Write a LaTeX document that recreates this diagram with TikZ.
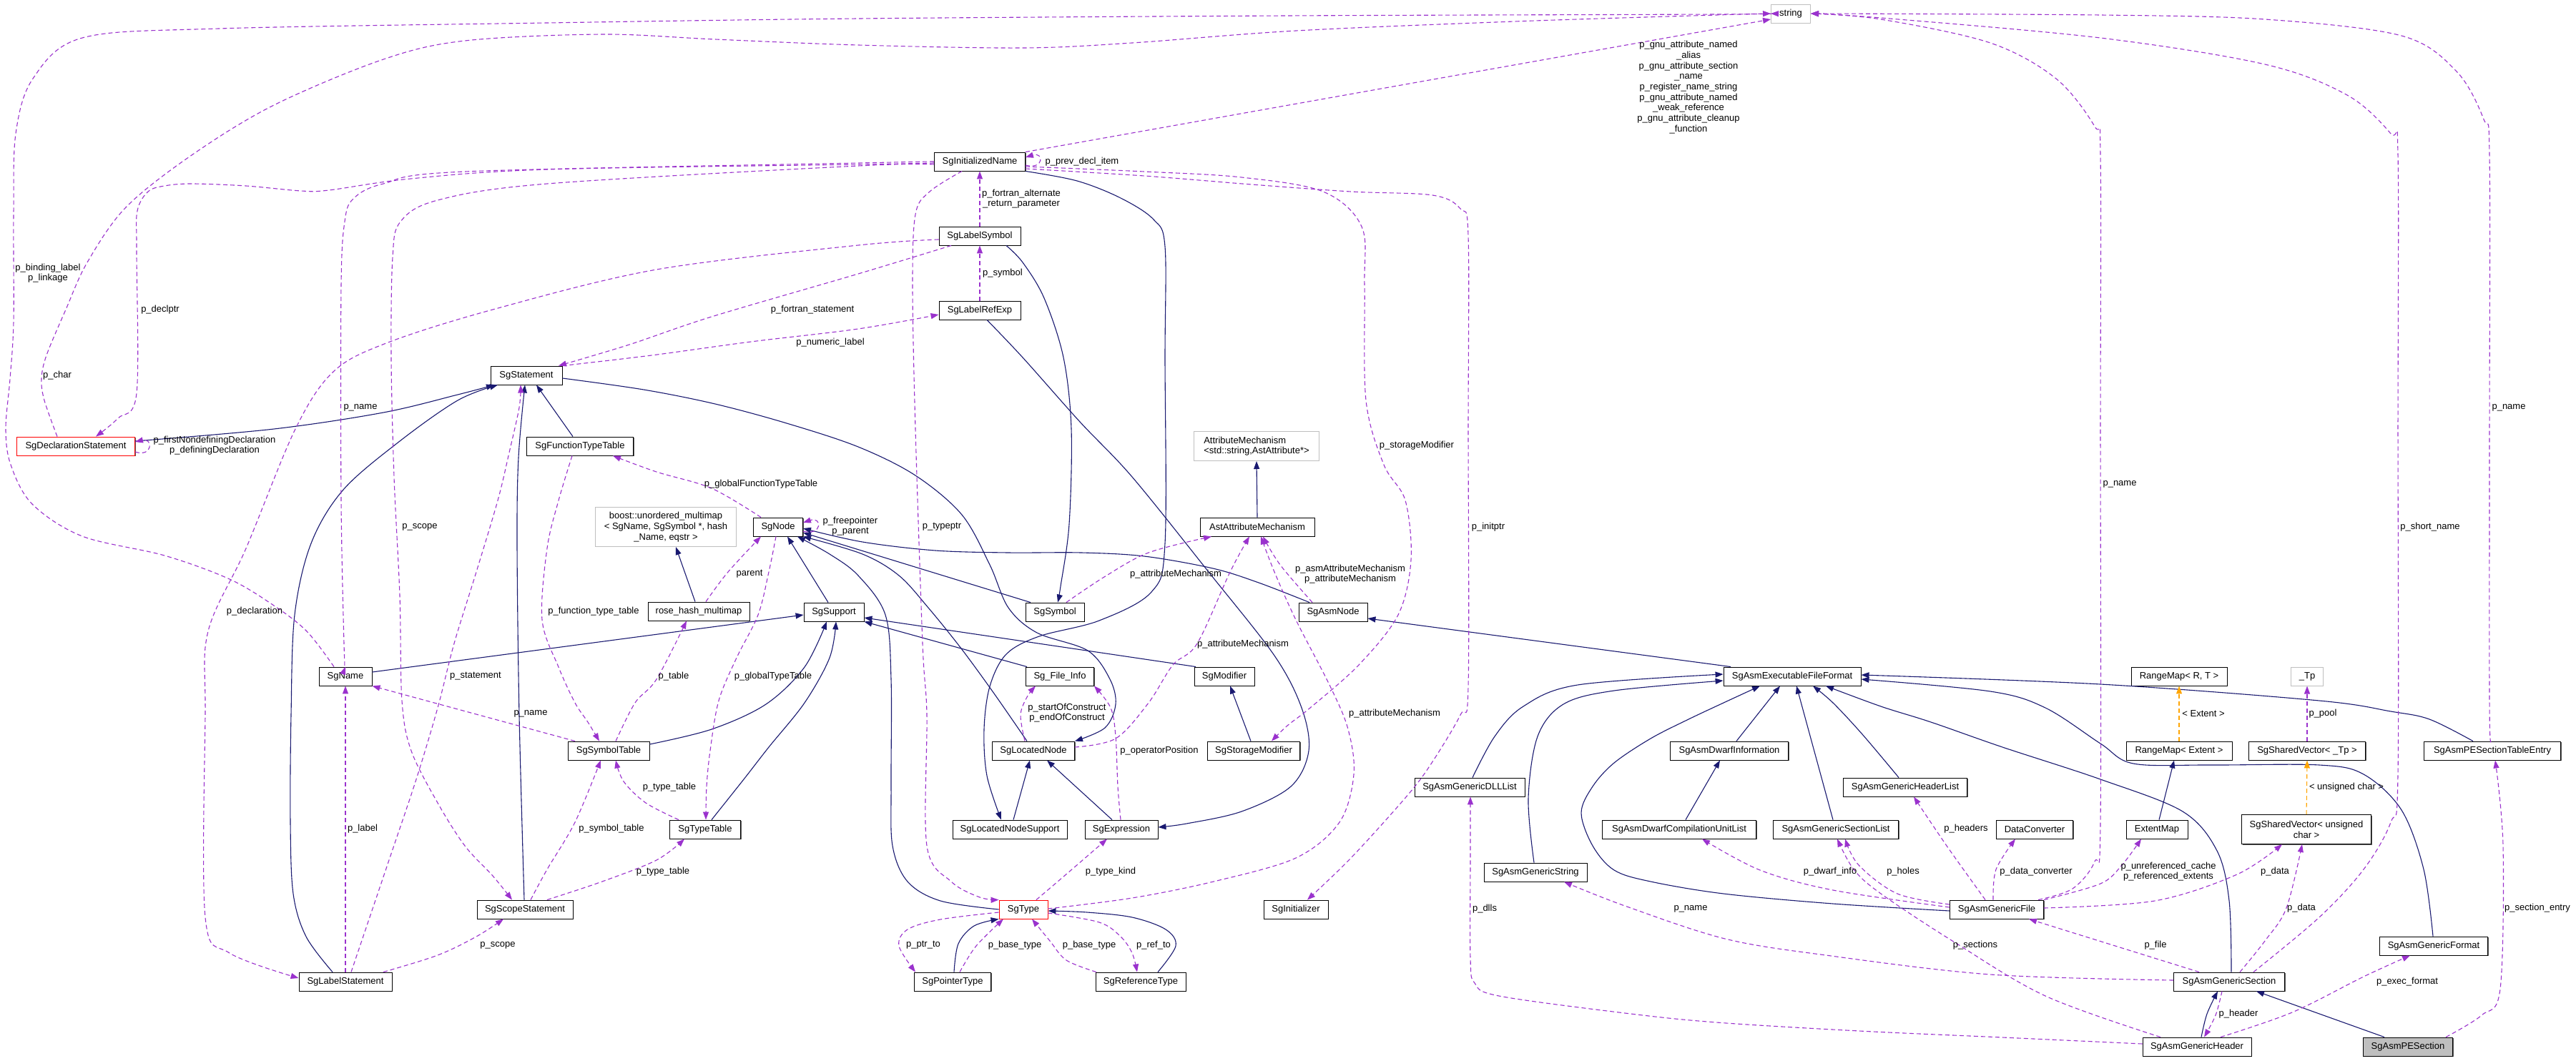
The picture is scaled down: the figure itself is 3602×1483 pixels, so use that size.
\documentclass[tikz,border=0pt]{standalone}
\usepackage{fontspec}
\setmainfont{Liberation Sans}
\usetikzlibrary{arrows.meta,shadows}
\definecolor{dxnavy}{HTML}{191970}
\definecolor{dxpurp}{HTML}{9A32CD}
\definecolor{dxorng}{HTML}{FFA500}
\definecolor{dxgray}{HTML}{BFBFBF}
\newcommand\dxf{\fontsize{13}{14.7}\selectfont}
\begin{document}
\begin{tikzpicture}[x=1pt,y=-1pt,
  cls/.style={draw=black, fill=white, line width=0.9pt, inner sep=0pt, minimum height=26pt, font=\dxf, align=center, drop shadow={opacity=1,fill=black!65,shadow xshift=1.3pt,shadow yshift=-1.3pt}},
  redcls/.style={cls, draw=red},
  ucls/.style={draw=dxgray, fill=white, line width=1pt, inner sep=0pt, minimum height=26pt, font=\dxf, align=center},
  inh/.style={draw=dxnavy, line width=1.1pt, -{Triangle[length=11pt,width=8pt]}},
  usel/.style={draw=dxpurp, line width=1.1pt, dash pattern=on 6pt off 4pt, -{Triangle[length=11pt,width=8pt]}},
  tmpl/.style={draw=dxorng, line width=1.1pt, dash pattern=on 6pt off 4pt, -{Triangle[length=11pt,width=8pt]}},
  lbl/.style={font=\dxf, inner sep=0pt, align=center},
  sm/.style={smooth, tension=0.55}
]
\useasboundingbox[fill=white] (0,0) rectangle (3602,1483);

% ---------------- nodes ----------------
\node[ucls, minimum width=55pt] (str) at (2504,19) {string};
\node[cls, minimum width=127pt] (ini) at (1370,226) {SgInitializedName};
\node[cls, minimum width=114pt] (lsym) at (1370,330) {SgLabelSymbol};
\node[cls, minimum width=114pt] (lref) at (1370,434) {SgLabelRefExp};
\node[cls, minimum width=100pt] (stmt) at (736,525) {SgStatement};
\node[redcls, minimum width=165pt] (decl) at (106,624) {SgDeclarationStatement};
\node[cls, minimum width=149pt] (ftt) at (811,624) {SgFunctionTypeTable};
\node[ucls, minimum width=197pt, minimum height=55pt] (boost) at (931,737) {boost::unordered\_multimap\\< SgName, SgSymbol *, hash\\\_Name, eqstr >};
\node[cls, minimum width=69pt] (node) at (1088,737) {SgNode};
\node[cls, minimum width=142pt] (rhm) at (977,855) {rose\_hash\_multimap};
\node[cls, minimum width=84pt] (sup) at (1166,856) {SgSupport};
\node[cls, minimum width=74pt] (name) at (483,946) {SgName};
\node[cls, minimum width=114pt] (symt) at (851,1050) {SgSymbolTable};
\node[cls, minimum width=99pt] (typt) at (986,1160) {SgTypeTable};
\node[cls, minimum width=134pt] (scope) at (734,1272) {SgScopeStatement};
\node[cls, minimum width=130pt] (lstmt) at (483,1373) {SgLabelStatement};
\node[ucls, minimum width=175pt, minimum height=41pt, align=left] (am) at (1757,624) {AttributeMechanism\\<std::string,AstAttribute*>};
\node[cls, minimum width=160pt] (aam) at (1758,737) {AstAttributeMechanism};
\node[cls, minimum width=82pt] (sym) at (1475,856) {SgSymbol};
\node[cls, minimum width=96pt] (asmn) at (1864,856) {SgAsmNode};
\node[cls, minimum width=95pt] (sfi) at (1482,946) {Sg\_File\_Info};
\node[cls, minimum width=84pt] (mod) at (1712,946) {SgModifier};
\node[cls, minimum width=115pt] (lnode) at (1445,1050) {SgLocatedNode};
\node[cls, minimum width=129pt] (smod) at (1753,1050) {SgStorageModifier};
\node[cls, minimum width=160pt] (lns) at (1412,1160) {SgLocatedNodeSupport};
\node[cls, minimum width=102pt] (expr) at (1568,1160) {SgExpression};
\node[redcls, minimum width=68pt] (type) at (1431,1272) {SgType};
\node[cls, minimum width=90pt] (init) at (1812,1272) {SgInitializer};
\node[cls, minimum width=107pt] (ptr) at (1332,1373) {SgPointerType};
\node[cls, minimum width=126pt] (ref) at (1595,1373) {SgReferenceType};
\node[cls, minimum width=192pt] (aeff) at (2506,946) {SgAsmExecutableFileFormat};
\node[cls, minimum width=165pt] (dwi) at (2418,1050) {SgAsmDwarfInformation};
\node[cls, minimum width=154pt] (dll) at (2055,1101) {SgAsmGenericDLLList};
\node[cls, minimum width=215pt] (dcul) at (2348,1160) {SgAsmDwarfCompilationUnitList};
\node[cls, minimum width=175pt] (gsl) at (2567,1160) {SgAsmGenericSectionList};
\node[cls, minimum width=173pt] (ghl) at (2664,1101) {SgAsmGenericHeaderList};
\node[cls, minimum width=144pt] (gstr) at (2147,1220) {SgAsmGenericString};
\node[cls, minimum width=107pt] (dc) at (2845,1160) {DataConverter};
\node[cls, minimum width=86pt] (em) at (3016,1160) {ExtentMap};
\node[cls, minimum width=134pt] (rmrt) at (3047,946) {RangeMap< R, T >};
\node[cls, minimum width=148pt] (rme) at (3047,1050) {RangeMap< Extent >};
\node[ucls, minimum width=45pt] (tp) at (3226,946) {\_Tp};
\node[cls, minimum width=163pt] (svtp) at (3226,1050) {SgSharedVector< \_Tp >};
\node[cls, minimum width=181pt, minimum height=41pt] (svuc) at (3225,1160) {SgSharedVector< unsigned\\char >};
\node[cls, minimum width=191pt] (pste) at (3485,1050) {SgAsmPESectionTableEntry};
\node[cls, minimum width=131pt] (gf) at (2792,1272) {SgAsmGenericFile};
\node[cls, minimum width=151pt] (gfmt) at (3403,1323) {SgAsmGenericFormat};
\node[cls, minimum width=155pt] (gsec) at (3117,1373) {SgAsmGenericSection};
\node[cls, minimum width=152pt] (ghdr) at (3072,1464) {SgAsmGenericHeader};
\node[cls, minimum width=125pt, fill=black!25] (pes) at (3367,1464) {SgAsmPESection};

% ---------------- inheritance edges ----------------
\draw[inh] plot[sm] coordinates {([yshift=7pt]decl.east) (383,600) (536,577) (640,552) ([xshift=-45pt]stmt.south)};
\draw[inh] plot[sm] coordinates {([xshift=-18pt]lstmt.north) (428,1310) (410,1250) (406,1150) (407,1000) (412,860) (435,760) (480,685) (559,617) (640,560) ([xshift=-40pt]stmt.south)};
\draw[inh] plot[sm] coordinates {([xshift=-1pt]scope.north) (726,1000) (723,760) (725,640) ([xshift=-2pt]stmt.south)};
\draw[inh] ([xshift=-10pt]ftt.north) -- ([xshift=14pt]stmt.south);
\draw[inh] plot[sm] coordinates {([yshift=-4pt]stmt.east) (900,545) (1000,565) (1100,592) (1200,625) (1280,665) (1345,720) (1384,790) (1410,850) (1450,885) (1521,910) (1552,950) (1560,985) (1545,1018) (lnode.north east)};
\draw[inh] ([xshift=5pt]lns.north) -- ([xshift=-5pt]lnode.south);
\draw[inh] ([xshift=-13pt]expr.north) -- ([xshift=19pt]lnode.south);
\draw[inh] plot[sm] coordinates {(ini.south east) (1506,253) (1567,277) (1613,307) (1629,345) (1629,500) (1629,760) (1610,828) (1537,868) (1453,890) (1407,915) (1384,960) (1376,1020) (1380,1085) ([xshift=-12pt]lns.north)};
\draw[inh] plot[sm] coordinates {([xshift=37pt]lsym.south) (1430,367) (1460,417) (1487,500) (1498,600) (1495,733) (1483,820) ([xshift=4pt]sym.north)};
\draw[inh] plot[sm] coordinates {([xshift=10pt]lref.south) (1430,500) (1510,590) (1583,667) (1690,800) (1782,917) (1820,990) (1830,1050) (1805,1100) (1736,1135) (1659,1152) ([yshift=3pt]expr.east)};
\draw[inh] ([xshift=-34pt]sym.north) -- ([yshift=-8pt]node.east);
\draw[inh] plot[sm] coordinates {([xshift=-33pt]asmn.north) (1760,815) (1696,795) (1600,778) (1512,773) (1410,773) (1308,770) (1206,758) ([yshift=-2pt]node.east)};
\draw[inh] plot[sm] coordinates {([xshift=-9pt]lnode.north) (1390,970) (1344,907) (1298,850) (1257,805) (1206,775) (node.south east)};
\draw[inh] plot[sm] coordinates {(type.west) (1315,1260) (1269,1233) (1248,1183) (1246,1100) (1246,950) (1238,860) (1200,805) (1160,775) ([xshift=-8pt]node.south east)};
\draw[inh] ([xshift=-8pt]sup.north) -- ([xshift=13pt]node.south);
\draw[inh] ([yshift=6pt]name.east) -- ([yshift=-4pt]sup.west);
\draw[inh] ([xshift=-5pt]rhm.north) -- ([xshift=14pt]boost.south);
\draw[inh] plot[sm] coordinates {([yshift=9pt]symt.east) (995,1020) (1071,985) (1125,933) ([xshift=-10pt]sup.south)};
\draw[inh] plot[sm] coordinates {([xshift=9pt]typt.north) (1040,1090) (1075,1045) (1125,983) (1160,920) ([xshift=3pt]sup.south)};
\draw[inh] ([xshift=-46pt]sfi.north) -- (sup.south east);
\draw[inh] ([xshift=-40pt]mod.north) -- ([yshift=-8pt]sup.east);
\draw[inh] ([xshift=-4pt]smod.north) -- ([xshift=8pt]mod.south);
\draw[inh] (aam.north) -- (am.south);
\draw[inh] ([xshift=-86pt]aeff.north) -- ([yshift=-9pt]asmn.east);
\draw[inh] plot[sm] coordinates {([xshift=4pt]dll.north) (2090,1030) (2130,988) (2206,958) ([yshift=3pt]aeff.west)};
\draw[inh] plot[sm] coordinates {([xshift=-2pt]gstr.north) (2137,1117) (2150,1030) (2186,985) (2257,966) ([yshift=-6pt]aeff.west)};
\draw[inh] plot[sm] coordinates {([yshift=-2pt]gf.west) (2563,1264) (2410,1250) (2308,1233) (2257,1217) (2227,1183) (2211,1137) (2227,1100) (2257,1067) (2308,1033) (2359,1007) (2410,983) ([xshift=-45pt]aeff.south)};
\draw[inh] ([xshift=10pt]dwi.north) -- ([xshift=-17pt]aeff.south);
\draw[inh] ([xshift=-4pt]gsl.north) -- ([xshift=6pt]aeff.south);
\draw[inh] plot[sm] coordinates {([xshift=-9pt]ghl.north) (2604,1027) (2563,983) ([xshift=29pt]aeff.south)};
\draw[inh] plot[sm] coordinates {([xshift=3pt]gsec.north) (3117,1260) (3100,1190) (3052,1135) (2937,1090) (2800,1045) (2700,1010) (2630,988) ([xshift=47pt]aeff.south)};
\draw[inh] plot[sm] coordinates {([xshift=-27pt]pste.north) (3397,1006) (3343,995) (3243,980) (2937,957) ([yshift=2pt]aeff.east)};
\draw[inh] plot[sm] coordinates {([xshift=-1pt]gfmt.north) (3389,1216) (3358,1133) (3305,1083) (3243,1070) (3090,1070) (2983,1068) (2937,1040) (2860,990) (2783,967) ([yshift=-4pt]aeff.east)};
\draw[inh] ([xshift=9pt]dcul.north) -- ([xshift=-13pt]dwi.south);
\draw[inh] ([xshift=3pt]em.north) -- ([xshift=-7pt]rme.south);
\draw[inh] ([xshift=-33pt]pes.north) -- ([xshift=38pt]gsec.south);
\draw[inh] plot[sm] coordinates {([xshift=6pt]ghdr.north) (3086,1418) ([xshift=-16pt]gsec.south)};
\draw[inh] plot[sm] coordinates {([xshift=2pt]ptr.north) (1340,1320) (1362,1295) (type.south west)};
\draw[inh] plot[sm] coordinates {([xshift=24pt]ref.north) (1644,1323) (1630,1300) (1583,1283) (1520,1276) ([yshift=-2pt]type.east)};

% ---------------- usage edges ----------------
\draw[usel] plot[sm] coordinates {([xshift=-26pt]decl.north) (62,560) (58,530) (65,497) (92,433) (122,367) (176,290) (268,217) (383,147) (536,83) (650,57) (842,48) (1000,55) (1200,63) (1430,67) (1583,60) (1812,43) (2118,30) (2400,21) (str.west)};
\draw[usel] plot[sm] coordinates {([xshift=-16pt]name.north) (429,883) (383,847) (321,810) (230,777) (115,750) (45,705) (15,650) (8,600) (14,530) (19,450) (19,300) (22,187) (46,110) (115,53) (306,40) (765,32) (1200,26) (1800,22) (2400,20) (str.west)};
\draw[usel] (ini.north east) -- ([yshift=-8pt]str.west);
\draw[usel] plot[sm] coordinates {([xshift=58pt]gf.north) (2898,1243) (2929,1205) (2937,1150) (2937,600) (2937,217) (2929,177) (2875,110) (2783,60) (2630,27) (str.east)};
\draw[usel] plot[sm] coordinates {([xshift=34pt]gsec.north) (3243,1283) (3305,1216) (3343,1150) (3353,1083) (3353,600) (3353,217) (3343,187) (3282,133) (3167,90) (2937,53) (2630,25) (str.east)};
\draw[usel] plot[sm] coordinates {([xshift=-2pt]pste.north) (3481,983) (3481,600) (3481,217) (3473,167) (3435,100) (3358,50) (3167,27) (2937,21) (str.east)};
\draw[usel] ([yshift=-5pt]ini.east) .. controls (1460,238) and (1460,212) .. ([yshift=6pt]ini.east);
\draw[usel] plot[sm] coordinates {([yshift=-7pt]ini.east) (1600,240) (1736,248) (1850,268) (1904,317) (1908,400) (1910,560) (1935,650) (1965,700) (1973,783) (1955,860) (1900,930) (1832,990) (1800,1015) ([xshift=25pt]smod.north)};
\draw[usel] plot[sm] coordinates {([yshift=-10pt]ini.east) (1600,246) (1750,258) (1889,268) (2003,273) (2042,292) (2053,330) (2053,600) (2053,960) (2042,1000) (2000,1070) (1965,1116) (1889,1200) ([xshift=16pt]init.north)};
\draw[usel] plot[sm] coordinates {([xshift=-25pt]ini.south) (1300,268) (1280,300) (1276,400) (1280,600) (1290,900) (1296,1000) (1296,1183) (1330,1233) (1370,1255) (type.north west)};
\draw[usel] (lsym.north) -- (ini.south);
\draw[usel] (lref.north) -- (lsym.south);
\draw[usel] plot[sm] coordinates {([xshift=-40pt]lsym.south) (1200,383) (995,443) (880,482) ([xshift=45pt]stmt.north)};
\draw[usel] plot[sm] coordinates {(stmt.north east) (911,497) (1050,478) (1200,460) ([yshift=-6pt]lref.west)};
\draw[usel] plot[sm] coordinates {([yshift=-5pt]lsym.west) (1200,343) (918,377) (689,433) (540,480) (466,520) (413,600) (344,767) (291,883) (287,1000) (287,1283) (321,1333) ([yshift=5pt]lstmt.west)};
\draw[usel] plot[sm] coordinates {([yshift=-2pt]ini.west) (1200,230) (765,237) (574,250) (460,266) (421,267) (344,260) (268,257) (230,260) (207,268) (192,295) (191,350) (191,550) (165,585) ([xshift=28pt]decl.north)};
\draw[usel] plot[sm] coordinates {(ini.west) (1200,228) (650,240) (536,257) (494,278) (482,310) (477,400) (477,700) (481,900) (name.north)};
\draw[usel] plot[sm] coordinates {([yshift=-4pt]ini.west) (1200,232) (765,257) (612,280) (560,310) (549,360) (547,500) (551,667) (559,833) (562,980) (575,1050) (612,1123) (650,1183) (689,1225) ([xshift=-18pt]scope.north)};
\draw[usel] ([xshift=-47pt]symt.north) -- (name.south east);
\draw[usel] (lstmt.north) -- (name.south);
\draw[usel] plot[sm] coordinates {([xshift=8pt]lstmt.north) (545,1200) (582,1090) (612,990) (635,900) (666,800) (696,700) (712,633) (726,570) ([xshift=-8pt]stmt.south)};
\draw[usel] plot[sm] coordinates {([xshift=53pt]lstmt.north) (612,1336) (666,1310) ([xshift=-30pt]scope.south)};
\draw[usel] plot[sm] coordinates {([xshift=8pt]scope.north) (765,1216) (804,1150) ([xshift=-11pt]symt.south)};
\draw[usel] plot[sm] coordinates {([xshift=31pt]scope.north) (842,1233) (918,1203) ([xshift=-29pt]typt.south)};
\draw[usel] plot[sm] coordinates {([xshift=-37pt]typt.north) (903,1123) (872,1093) ([xshift=10pt]symt.south)};
\draw[usel] plot[sm] coordinates {([xshift=-11pt]ftt.south) (781,700) (765,767) (758,867) (781,933) (804,983) (822,1010) ([xshift=-13pt]symt.north)};
\draw[usel] plot[sm] coordinates {([xshift=-24pt]node.north) (995,683) (918,660) ([xshift=46pt]ftt.south)};
\draw[usel] plot[sm] coordinates {([xshift=-3pt]node.south) (1075,800) (1060,860) (1030,920) (1005,980) (993,1050) (988,1100) ([xshift=1pt]typt.north)};
\draw[usel] ([yshift=-6pt]node.east) .. controls (1150,750) and (1150,722) .. ([yshift=6pt]node.east);
\draw[usel] plot[sm] coordinates {([xshift=10pt]rhm.north) (1018,800) ([xshift=-24pt]node.south)};
\draw[usel] plot[sm] coordinates {([xshift=10pt]symt.north) (888,983) (918,950) ([xshift=-17pt]rhm.south)};
\draw[usel] ([yshift=-8pt]decl.east) .. controls (214,640) and (214,612) .. ([yshift=6pt]decl.east);
\draw[usel] plot[sm] coordinates {([xshift=16pt]sym.north) (1544,807) (1606,773) ([xshift=-64pt]aam.south)};
\draw[usel] plot[sm] coordinates {([xshift=-29pt]asmn.north) (1790,790) ([xshift=8pt]aam.south)};
\draw[usel] plot[sm] coordinates {([yshift=5pt]lnode.east) (1560,1033) (1606,983) (1640,930) (1674,900) (1720,800) ([xshift=-11pt]aam.south)};
\draw[usel] plot[sm] coordinates {([yshift=1pt]type.east) (1583,1256) (1697,1233) (1812,1200) (1873,1150) (1893,1083) (1885,1020) (1860,960) (1812,867) (1782,800) ([xshift=5pt]aam.south)};
\draw[usel] plot[sm] coordinates {([xshift=-1pt]expr.north) (1563,1100) (1560,1030) (1553,990) (sfi.south east)};
\draw[usel] plot[sm] coordinates {([xshift=-12pt]lnode.north) (1427,1000) (1436,975) ([xshift=-34pt]sfi.south)};
\draw[usel] plot[sm] coordinates {([xshift=18pt]type.north) (1500,1215) ([xshift=-20pt]expr.south)};
\draw[usel] plot[sm] coordinates {([yshift=-4pt]type.west) (1315,1286) (1269,1300) (1257,1323) ([xshift=-52pt]ptr.north)};
\draw[usel] plot[sm] coordinates {([xshift=10pt]ptr.north) (1365,1323) ([xshift=-28pt]type.south)};
\draw[usel] plot[sm] coordinates {([xshift=-62pt]ref.north) (1491,1343) (1468,1316) ([xshift=12pt]type.south)};
\draw[usel] plot[sm] coordinates {([yshift=-5pt]type.east) (1537,1290) (1567,1310) (1583,1333) ([xshift=-5pt]ref.north)};
\draw[usel] plot[sm] coordinates {([yshift=4pt]ghdr.west) (2800,1451) (2600,1442) (2400,1430) (2272,1417) (2096,1393) (2062,1375) (2056,1340) (2056,1200) ([xshift=1pt]dll.south)};
\draw[usel] plot[sm] coordinates {([yshift=2pt]gsec.west) (2783,1363) (2553,1336) (2412,1313) (2272,1267) ([xshift=40pt]gstr.south)};
\draw[usel] plot[sm] coordinates {([xshift=-51pt]ghdr.north) (2860,1393) (2730,1316) (2630,1250) (2592,1216) ([xshift=2pt]gsl.south)};
\draw[usel] plot[sm] coordinates {([yshift=7pt]gf.west) (2653,1250) (2599,1210) ([xshift=13pt]gsl.south)};
\draw[usel] plot[sm] coordinates {([yshift=3pt]gf.west) (2563,1245) (2461,1217) ([xshift=32pt]dcul.south)};
\draw[usel] plot[sm] coordinates {([xshift=-16pt]gf.north) (2722,1183) ([xshift=12pt]ghl.south)};
\draw[usel] plot[sm] coordinates {([xshift=-5pt]gf.north) (2791,1216) ([xshift=-27pt]dc.south)};
\draw[usel] plot[sm] coordinates {(gf.north east) (2937,1236) (2967,1210) ([xshift=-22pt]em.south)};
\draw[usel] plot[sm] coordinates {([yshift=2pt]gf.east) (3013,1260) (3128,1223) ([xshift=-34pt]svuc.south)};
\draw[usel] plot[sm] coordinates {([xshift=15pt]gsec.north) (3167,1316) (3197,1270) ([xshift=-6pt]svuc.south)};
\draw[usel] ([xshift=-42pt]gsec.north) -- ([xshift=45pt]gf.south);
\draw[usel] plot[sm] coordinates {([xshift=-10pt]gsec.south) (3098,1420) ([xshift=10pt]ghdr.north)};
\draw[usel] plot[sm] coordinates {([xshift=33pt]ghdr.north) (3205,1416) (3305,1366) ([xshift=-33pt]gfmt.south)};
\draw[usel] plot[sm] coordinates {([xshift=53pt]pes.north) (3470,1420) (3496,1383) (3500,1183) ([xshift=4pt]pste.south)};
\draw[usel] (svtp.north) -- (tp.south);
\draw[tmpl] (rme.north) -- (rmrt.south);
\draw[tmpl] (svuc.north) -- (svtp.south);

% ---------------- labels ----------------
\node[lbl] (l1) at (67,382) {p\_binding\_label\\p\_linkage};
\node[lbl] (l2) at (80,525) {p\_char};
\node[lbl] (l3) at (224,433) {p\_declptr};
\node[lbl] (l4) at (1136,433) {p\_fortran\_statement};
\node[lbl] (l5) at (1161,479) {p\_numeric\_label};
\node[lbl] (l6) at (2361,122) {p\_gnu\_attribute\_named\\\_alias\\p\_gnu\_attribute\_section\\\_name\\p\_register\_name\_string\\p\_gnu\_attribute\_named\\\_weak\_reference\\p\_gnu\_attribute\_cleanup\\\_function};
\node[lbl] (l7) at (1513,226) {p\_prev\_decl\_item};
\node[lbl] (l8) at (1428,278) {p\_fortran\_alternate\\\_return\_parameter};
\node[lbl] (l9) at (1402,382) {p\_symbol};
\node[lbl] (l10) at (504,570) {p\_name};
\node[lbl] (l11) at (300,623) {p\_firstNondefiningDeclaration\\p\_definingDeclaration};
\node[lbl] (l12) at (587,737) {p\_scope};
\node[lbl] (l13) at (356,855) {p\_declaration};
\node[lbl] (l14) at (830,855) {p\_function\_type\_table};
\node[lbl] (l15) at (1064,677) {p\_globalFunctionTypeTable};
\node[lbl] (l16) at (1048,803) {parent};
\node[lbl] (l17) at (1189,736) {p\_freepointer\\p\_parent};
\node[lbl] (l18) at (742,998) {p\_name};
\node[lbl] (l19) at (665,946) {p\_statement};
\node[lbl] (l20) at (942,946) {p\_table};
\node[lbl] (l21) at (1081,946) {p\_globalTypeTable};
\node[lbl] (l22) at (507,1159) {p\_label};
\node[lbl] (l23) at (855,1159) {p\_symbol\_table};
\node[lbl] (l24) at (936,1101) {p\_type\_table};
\node[lbl] (l25) at (927,1219) {p\_type\_table};
\node[lbl] (l26) at (696,1322) {p\_scope};
\node[lbl] (l27) at (1317,737) {p\_typeptr};
\node[lbl] (l28) at (1644,803) {p\_attributeMechanism};
\node[lbl] (l29) at (1888,803) {p\_asmAttributeMechanism\\p\_attributeMechanism};
\node[lbl] (l30) at (1981,623) {p\_storageModifier};
\node[lbl] (l31) at (2081,737) {p\_initptr};
\node[lbl] (l32) at (1738,901) {p\_attributeMechanism};
\node[lbl] (l33) at (1492,997) {p\_startOfConstruct\\p\_endOfConstruct};
\node[lbl] (l34) at (1950,998) {p\_attributeMechanism};
\node[lbl] (l35) at (1621,1050) {p\_operatorPosition};
\node[lbl] (l36) at (1553,1219) {p\_type\_kind};
\node[lbl] (l37) at (1291,1322) {p\_ptr\_to};
\node[lbl] (l38) at (1419,1322) {p\_base\_type};
\node[lbl] (l39) at (1523,1322) {p\_base\_type};
\node[lbl] (l40) at (1613,1322) {p\_ref\_to};
\node[lbl] (l41) at (2076,1271) {p\_dlls};
\node[lbl] (l42) at (2364,1271) {p\_name};
\node[lbl] (l43) at (2559,1219) {p\_dwarf\_info};
\node[lbl] (l44) at (2661,1219) {p\_holes};
\node[lbl] (l45) at (2749,1159) {p\_headers};
\node[lbl] (l46) at (2847,1219) {p\_data\_converter};
\node[lbl] (l47) at (3032,1219) {p\_unreferenced\_cache\\p\_referenced\_extents};
\node[lbl] (l48) at (3181,1219) {p\_data};
\node[lbl] (l49) at (3218,1270) {p\_data};
\node[lbl] (l50) at (2762,1322) {p\_sections};
\node[lbl] (l51) at (3014,1322) {p\_file};
\node[lbl] (l52) at (3366,1373) {p\_exec\_format};
\node[lbl] (l53) at (3130,1418) {p\_header};
\node[lbl] (l54) at (3548,1270) {p\_section\_entry};
\node[lbl] (l55) at (3081,998) {< Extent >};
\node[lbl] (l56) at (3248,998) {p\_pool};
\node[lbl] (l57) at (3281,1101) {< unsigned char >};
\node[lbl] (l58) at (2964,677) {p\_name};
\node[lbl] (l59) at (3398,737) {p\_short\_name};
\node[lbl] (l60) at (3508,570) {p\_name};
\end{tikzpicture}
\end{document}
